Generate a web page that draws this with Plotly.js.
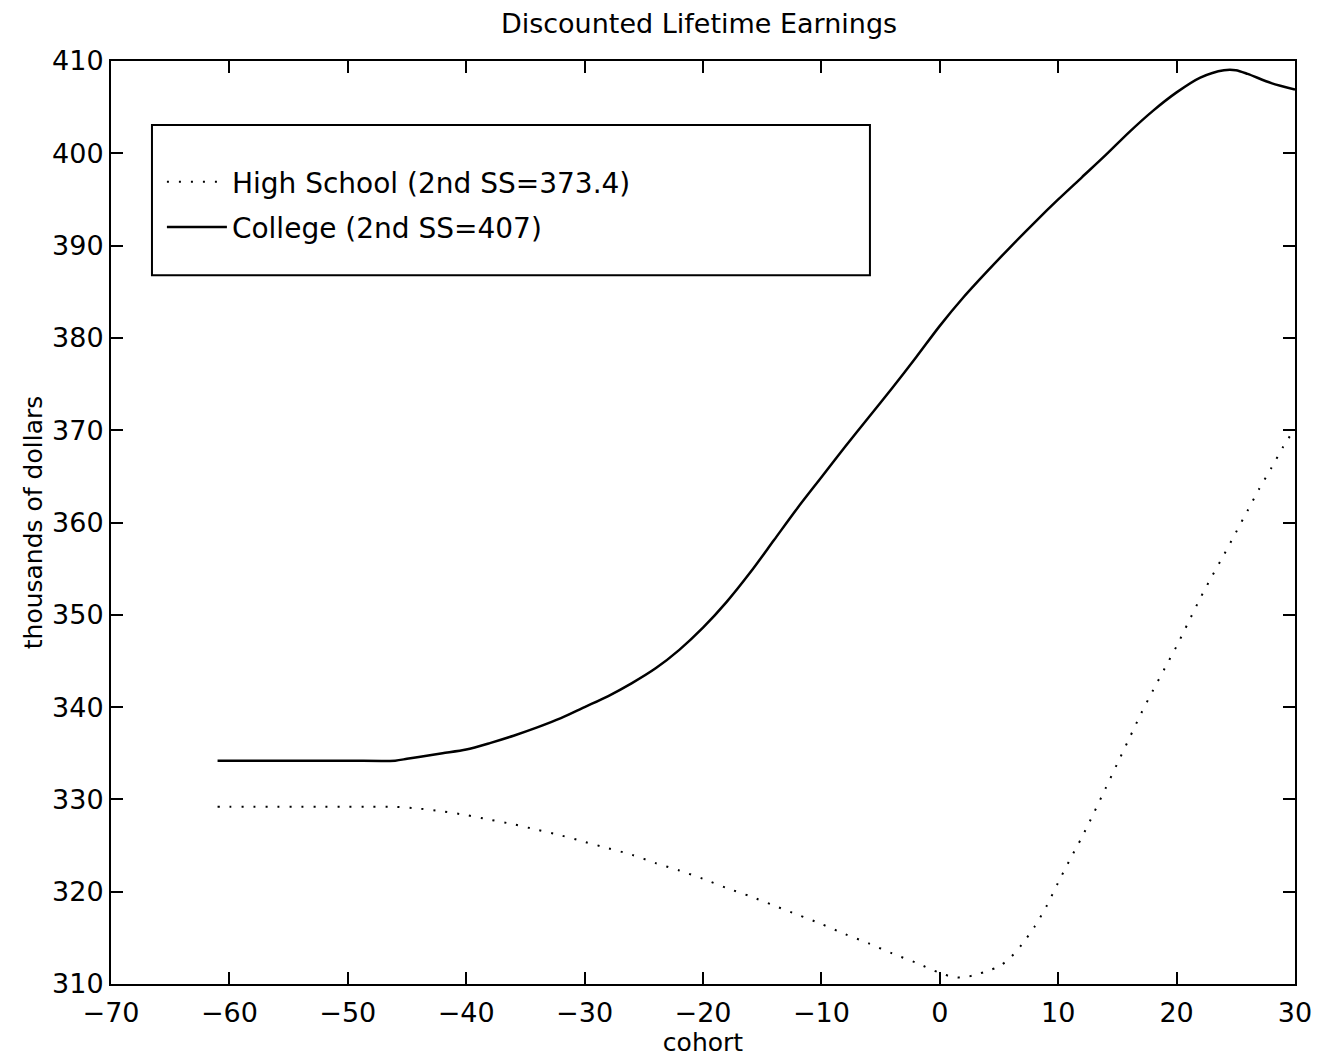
<!DOCTYPE html>
<html>
<head>
<meta charset="utf-8">
<script src="https://cdn.plot.ly/plotly-3.0.1.min.js"></script>
<style>html,body{margin:0;padding:0;background:#fff;}#chart{width:1334px;height:1063px;}</style>
</head>
<body>
<div id="chart"></div>
<script>
// Cohorts (x) and discounted lifetime earnings (thousands of dollars)
const hsCohort = [-61,-60,-58,-56,-54,-52,-50,-48,-46,-44,-42,-40,-38,-36,-34,-32,-30,-28,-26,-24,-22,-20,-18,-16,-14,-12,-10,-8,-6,-4,-2,0,1,2,3,4,5,6,7,8,9,10,11,12,13,14,15,16,17,18,19,20,21,22,23,24,25,26,27,28,29,30];
const hsEarn = [329.2,329.2,329.2,329.2,329.2,329.2,329.2,329.2,329.2,329.0,328.7,328.3,327.8,327.3,326.7,326.1,325.4,324.7,324.0,323.1,322.3,321.4,320.4,319.5,318.5,317.5,316.5,315.4,314.4,313.3,312.3,311.2,310.8,310.7,311.0,311.4,311.9,312.9,314.4,316.2,318.4,321.0,323.5,325.9,328.5,331.2,333.9,336.6,339.3,341.8,344.2,346.6,349.2,351.8,354.2,356.5,358.9,361.3,363.7,365.9,368.2,370.2];

const colCohort = [-61,-60,-55,-50,-46,-45,-44,-42,-40,-38,-36,-34,-32,-30,-28,-26,-24,-22,-20,-18,-16,-14,-12,-10,-8,-6,-4,-2,0,2,4,6,8,10,12,14,16,18,20,22,24,25,26,28,30];
const colEarn = [334.2,334.2,334.2,334.2,334.2,334.4,334.6,335.0,335.4,336.1,336.9,337.8,338.8,340.0,341.2,342.6,344.2,346.2,348.6,351.4,354.6,358.1,361.6,364.9,368.2,371.4,374.6,377.9,381.3,384.4,387.2,389.9,392.5,395.0,397.4,399.8,402.3,404.6,406.6,408.2,409.0,409.0,408.6,407.6,406.9];

const seriesNames = ['High School (2nd SS=373.4)', 'College (2nd SS=407)'];
const xTicks = [-70,-60,-50,-40,-30,-20,-10,0,10,20,30];
const yTicks = [310,320,330,340,350,360,370,380,390,400,410];

const FONT = 'DejaVu Sans, Liberation Sans, Arial, sans-serif';

const traces = [
  {x: hsCohort, y: hsEarn, name: seriesNames[0], legendgroup: 'hs', type: 'scatter', mode: 'lines',
   line: {color: '#000', width: 2, dash: '2px,10px', shape: 'spline', smoothing: 0.8}},
  {x: colCohort, y: colEarn, name: seriesNames[1], legendgroup: 'col', type: 'scatter', mode: 'lines',
   line: {color: '#000', width: 2.5, shape: 'spline', smoothing: 0.8}}
];

const axisCommon = {
  showgrid: false, zeroline: false, showline: true, linecolor: '#000', linewidth: 2,
  mirror: 'ticks', ticks: 'inside', ticklen: 12, tickwidth: 2, tickcolor: '#000',
  tickfont: {family: FONT, size: 27, color: '#000'}
};

const layout = {
  width: 1334, height: 1063,
  paper_bgcolor: '#fff', plot_bgcolor: '#fff',
  margin: {l: 111, r: 39, t: 61, b: 79},
  title: {text: 'Discounted Lifetime Earnings', font: {family: FONT, size: 27, color: '#000'},
          x: 0.524, xanchor: 'center', y: 0.978, yanchor: 'middle'},
  xaxis: Object.assign({}, axisCommon, {
    range: [-70, 30], tickvals: xTicks, ticktext: xTicks.map(v => v < 0 ? '\u2212' + Math.abs(v) : String(v)),
    ticklabelstandoff: 4,
    title: {text: 'cohort', font: {family: FONT, size: 25, color: '#000'}, standoff: 2}
  }),
  yaxis: Object.assign({}, axisCommon, {
    range: [310, 410], tickvals: yTicks,
    title: {text: 'thousands of dollars', font: {family: FONT, size: 25, color: '#000'}, standoff: 2}
  }),
  showlegend: true,
  legend: {x: 0.043, y: 0.896, xanchor: 'left', yanchor: 'top', bgcolor: 'rgba(0,0,0,0)',
           borderwidth: 0, itemwidth: 60, traceorder: 'grouped', tracegroupgap: 6,
           font: {family: FONT, size: 28, color: '#000'}},
  shapes: [{type: 'rect', xref: 'paper', yref: 'paper', x0: 0.0346, x1: 0.641, y0: 0.768, y1: 0.9307,
            line: {color: '#000', width: 2}, fillcolor: 'rgba(0,0,0,0)', layer: 'above'}]
};

Plotly.newPlot('chart', traces, layout, {displayModeBar: false, staticPlot: true});
</script>
</body>
</html>
